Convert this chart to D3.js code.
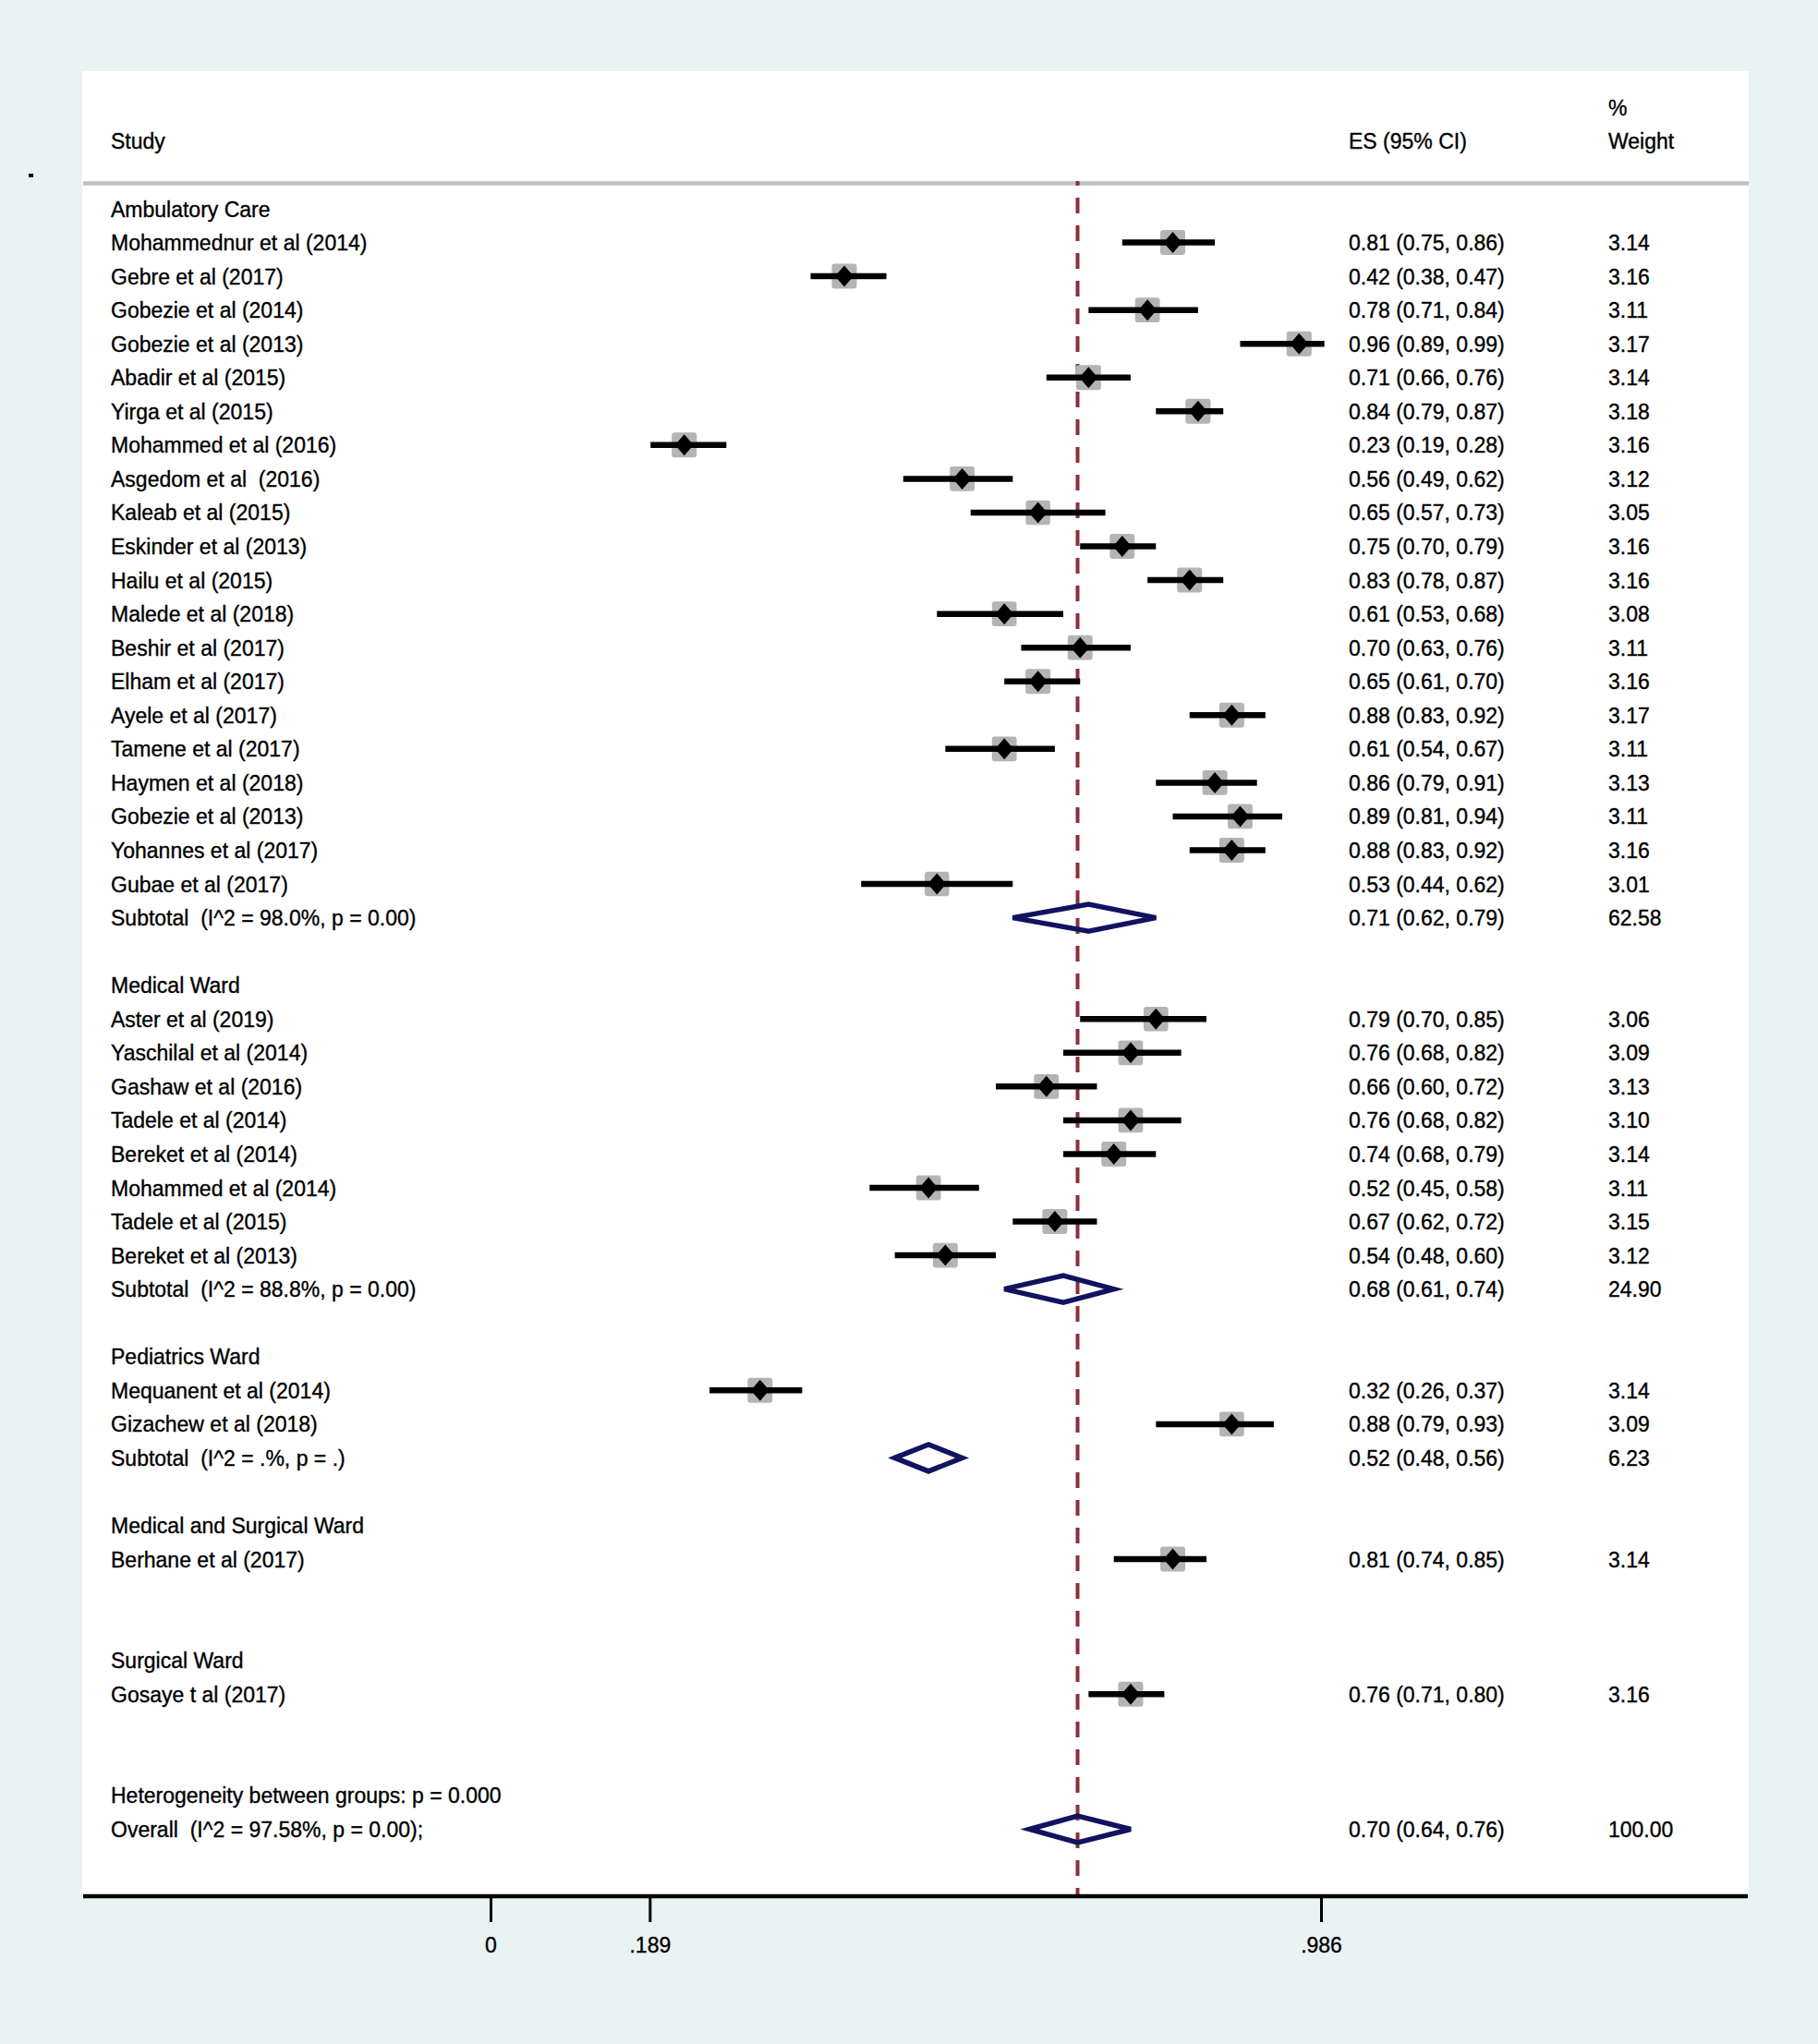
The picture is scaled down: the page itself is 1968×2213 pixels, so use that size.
<!DOCTYPE html>
<html>
<head>
<meta charset="utf-8">
<script src="https://cdn.jsdelivr.net/npm/d3@7"></script>
<style>
  body { margin: 0; background: #eaf2f3; }
  text { font-family: "Liberation Sans", Arial, sans-serif; font-size: 23px; fill: #000; white-space: pre; }
</style>
</head>
<body>
<div id="chart"></div>
<script>
var width = 1968, height = 2213;

// groups and their studies
var groups = ["Ambulatory Care", "Medical Ward", "Pediatrics Ward", "Medical and Surgical Ward", "Surgical Ward"];

var studies = [
  "Mohammednur et al (2014)", "Gebre et al (2017)", "Gobezie et al (2014)", "Gobezie et al (2013)",
  "Abadir et al (2015)", "Yirga et al (2015)", "Mohammed et al (2016)", "Asgedom et al  (2016)",
  "Kaleab et al (2015)", "Eskinder et al (2013)", "Hailu et al (2015)", "Malede et al (2018)",
  "Beshir et al (2017)", "Elham et al (2017)", "Ayele et al (2017)", "Tamene et al (2017)",
  "Haymen et al (2018)", "Gobezie et al (2013)", "Yohannes et al (2017)", "Gubae et al (2017)",
  "Aster et al (2019)", "Yaschilal et al (2014)", "Gashaw et al (2016)", "Tadele et al (2014)",
  "Bereket et al (2014)", "Mohammed et al (2014)", "Tadele et al (2015)", "Bereket et al (2013)",
  "Mequanent et al (2014)", "Gizachew et al (2018)",
  "Berhane et al (2017)",
  "Gosaye t al (2017)"
];
var studyGroup = [0,0,0,0,0,0,0,0,0,0,0,0,0,0,0,0,0,0,0,0, 1,1,1,1,1,1,1,1, 2,2, 3, 4];
var es  = [0.81,0.42,0.78,0.96,0.71,0.84,0.23,0.56,0.65,0.75,0.83,0.61,0.70,0.65,0.88,0.61,0.86,0.89,0.88,0.53,
           0.79,0.76,0.66,0.76,0.74,0.52,0.67,0.54, 0.32,0.88, 0.81, 0.76];
var lo  = [0.75,0.38,0.71,0.89,0.66,0.79,0.19,0.49,0.57,0.70,0.78,0.53,0.63,0.61,0.83,0.54,0.79,0.81,0.83,0.44,
           0.70,0.68,0.60,0.68,0.68,0.45,0.62,0.48, 0.26,0.79, 0.74, 0.71];
var hi  = [0.86,0.47,0.84,0.99,0.76,0.87,0.28,0.62,0.73,0.79,0.87,0.68,0.76,0.70,0.92,0.67,0.91,0.94,0.92,0.62,
           0.85,0.82,0.72,0.82,0.79,0.58,0.72,0.60, 0.37,0.93, 0.85, 0.80];
var weight = [3.14,3.16,3.11,3.17,3.14,3.18,3.16,3.12,3.05,3.16,3.16,3.08,3.11,3.16,3.17,3.11,3.13,3.11,3.16,3.01,
              3.06,3.09,3.13,3.10,3.14,3.11,3.15,3.12, 3.14,3.09, 3.14, 3.16];

// subtotals (only groups with more than one study)
var subGroup  = [0, 1, 2];
var subLabel  = ["Subtotal  (I^2 = 98.0%, p = 0.00)", "Subtotal  (I^2 = 88.8%, p = 0.00)", "Subtotal  (I^2 = .%, p = .)"];
var subEs     = [0.71, 0.68, 0.52];
var subLo     = [0.62, 0.61, 0.48];
var subHi     = [0.79, 0.74, 0.56];
var subWeight = ["62.58", "24.90", "6.23"];

var hetLabel = "Heterogeneity between groups: p = 0.000";
var overallLabel = "Overall  (I^2 = 97.58%, p = 0.00);";
var overallEs = 0.697, overallLo = 0.64, overallHi = 0.76, overallWeight = "100.00";

var tickValues = [0, 0.189, 0.986];
var tickLabels = ["0", ".189", ".986"];

var fmt = d3.format(".2f");

// build row layout: header, studies, subtotal row, blank per group
var rows = [];
groups.forEach(function(g, gi) {
  rows.push({ type: "header", label: g });
  studies.forEach(function(s, i) {
    if (studyGroup[i] === gi) rows.push({ type: "study", i: i });
  });
  var si = subGroup.indexOf(gi);
  rows.push(si >= 0 ? { type: "sub", i: si } : { type: "blank" });
  rows.push({ type: "blank" });
});
rows.push({ type: "het" });
rows.push({ type: "overall" });
rows.forEach(function(r, k) { r.row = k; });

var svg = d3.select("#chart").append("svg").attr("width", width).attr("height", height);

var panel = { left: 89, right: 1893, top: 77, bottom: 2053 };
var colStudy = 120, colEs = 1460, colW = 1741;

var x = d3.scaleLinear().domain([0, 0.986]).range([531, 1430]);
var y = d3.scaleLinear().domain([0, rows.length - 1]).range([226, 1980.5]);

svg.append("rect").attr("width", width).attr("height", height).attr("fill", "#eaf2f3");
svg.append("rect")
    .attr("x", panel.left).attr("y", panel.top)
    .attr("width", panel.right - panel.left).attr("height", panel.bottom - panel.top)
    .attr("fill", "#fff");

// stray dot at left
svg.append("rect").attr("x", 31).attr("y", 188).attr("width", 5).attr("height", 4).attr("fill", "#000");

// header
var head = svg.append("g").attr("stroke", "#000").attr("stroke-width", 0.35);
head.append("text").attr("x", colStudy).attr("y", 161).text("Study");
head.append("text").attr("x", colEs).attr("y", 161).text("ES (95% CI)");
head.append("text").attr("x", colW).attr("y", 125).text("%");
head.append("text").attr("x", colW).attr("y", 161).text("Weight");
svg.append("line")
    .attr("x1", panel.left + 1).attr("x2", panel.right)
    .attr("y1", 198.5).attr("y2", 198.5)
    .attr("stroke", "#c0c0c0").attr("stroke-width", 4.5);

// reference line at overall estimate
svg.append("line")
    .attr("x1", x(overallEs)).attr("x2", x(overallEs))
    .attr("y1", 196).attr("y2", panel.bottom)
    .attr("stroke", "#8c2f3a").attr("stroke-width", 4)
    .attr("stroke-dasharray", "17,13").attr("stroke-dashoffset", 12);

var base = 8.5;

// labels
var labels = svg.append("g").attr("stroke", "#000").attr("stroke-width", 0.35);
rows.forEach(function(r) {
  var yy = y(r.row) + base;
  if (r.type === "header") {
    labels.append("text").attr("x", colStudy).attr("y", yy).text(r.label);
  } else if (r.type === "study") {
    var i = r.i;
    labels.append("text").attr("x", colStudy).attr("y", yy).text(studies[i]);
    labels.append("text").attr("x", colEs).attr("y", yy)
        .text(fmt(es[i]) + " (" + fmt(lo[i]) + ", " + fmt(hi[i]) + ")");
    labels.append("text").attr("x", colW).attr("y", yy).text(fmt(weight[i]));
  } else if (r.type === "sub") {
    var j = r.i;
    labels.append("text").attr("x", colStudy).attr("y", yy).text(subLabel[j]);
    labels.append("text").attr("x", colEs).attr("y", yy)
        .text(fmt(subEs[j]) + " (" + fmt(subLo[j]) + ", " + fmt(subHi[j]) + ")");
    labels.append("text").attr("x", colW).attr("y", yy).text(subWeight[j]);
  } else if (r.type === "het") {
    labels.append("text").attr("x", colStudy).attr("y", yy).text(hetLabel);
  } else if (r.type === "overall") {
    labels.append("text").attr("x", colStudy).attr("y", yy).text(overallLabel);
    labels.append("text").attr("x", colEs).attr("y", yy)
        .text(fmt(overallEs) + " (" + fmt(overallLo) + ", " + fmt(overallHi) + ")");
    labels.append("text").attr("x", colW).attr("y", yy).text(overallWeight);
  }
});

// study marks
var studyRows = rows.filter(function(r) { return r.type === "study"; });
var boxSide = function(w) { return 15.2 * Math.sqrt(w); };

svg.append("g").selectAll("rect")
  .data(studyRows).enter().append("rect")
    .attr("x", function(d) { return x(es[d.i]) - boxSide(weight[d.i]) / 2; })
    .attr("y", function(d) { return y(d.row) - boxSide(weight[d.i]) / 2; })
    .attr("width", function(d) { return boxSide(weight[d.i]); })
    .attr("height", function(d) { return boxSide(weight[d.i]); })
    .attr("rx", 3)
    .attr("fill", "#b4b4b4");

svg.append("g").selectAll("line")
  .data(studyRows).enter().append("line")
    .attr("x1", function(d) { return x(lo[d.i]); })
    .attr("x2", function(d) { return x(hi[d.i]); })
    .attr("y1", function(d) { return y(d.row); })
    .attr("y2", function(d) { return y(d.row); })
    .attr("stroke", "#000").attr("stroke-width", 6.5);

svg.append("g").selectAll("path")
  .data(studyRows).enter().append("path")
    .attr("d", function(d) {
      var cx = x(es[d.i]), cy = y(d.row);
      return "M" + (cx - 10) + "," + cy + "L" + cx + "," + (cy - 11.5) +
             "L" + (cx + 10) + "," + cy + "L" + cx + "," + (cy + 11.5) + "Z";
    })
    .attr("fill", "#000");

// pooled diamonds
var pooled = rows.filter(function(r) { return r.type === "sub"; }).map(function(r) {
  return { row: r.row, es: subEs[r.i], lo: subLo[r.i], hi: subHi[r.i] };
});
var ov = rows.filter(function(r) { return r.type === "overall"; })[0];
pooled.push({ row: ov.row, es: overallEs, lo: overallLo, hi: overallHi });

svg.append("g").selectAll("path")
  .data(pooled).enter().append("path")
    .attr("d", function(d) {
      var cy = y(d.row), h = 14.5;
      return "M" + x(d.lo) + "," + cy + "L" + x(d.es) + "," + (cy - h) +
             "L" + x(d.hi) + "," + cy + "L" + x(d.es) + "," + (cy + h) + "Z";
    })
    .attr("fill", "none")
    .attr("stroke", "#12135f").attr("stroke-width", 5.5);

// x axis
svg.append("line")
    .attr("x1", panel.left + 1).attr("x2", panel.right - 1)
    .attr("y1", panel.bottom).attr("y2", panel.bottom)
    .attr("stroke", "#000").attr("stroke-width", 4.5);

var axis = d3.axisBottom(x)
    .tickValues(tickValues)
    .tickFormat(function(d, i) { return tickLabels[i]; })
    .tickSize(28)
    .tickPadding(17);

var gAxis = svg.append("g").attr("transform", "translate(0," + panel.bottom + ")").call(axis);
gAxis.select(".domain").remove();
gAxis.selectAll(".tick line").attr("stroke", "#000").attr("stroke-width", 3);
gAxis.selectAll(".tick text")
    .attr("font-family", "Liberation Sans, Arial, sans-serif")
    .attr("font-size", 23)
    .attr("fill", "#000")
    .attr("stroke", "#000").attr("stroke-width", 0.35);
</script>
</body>
</html>
